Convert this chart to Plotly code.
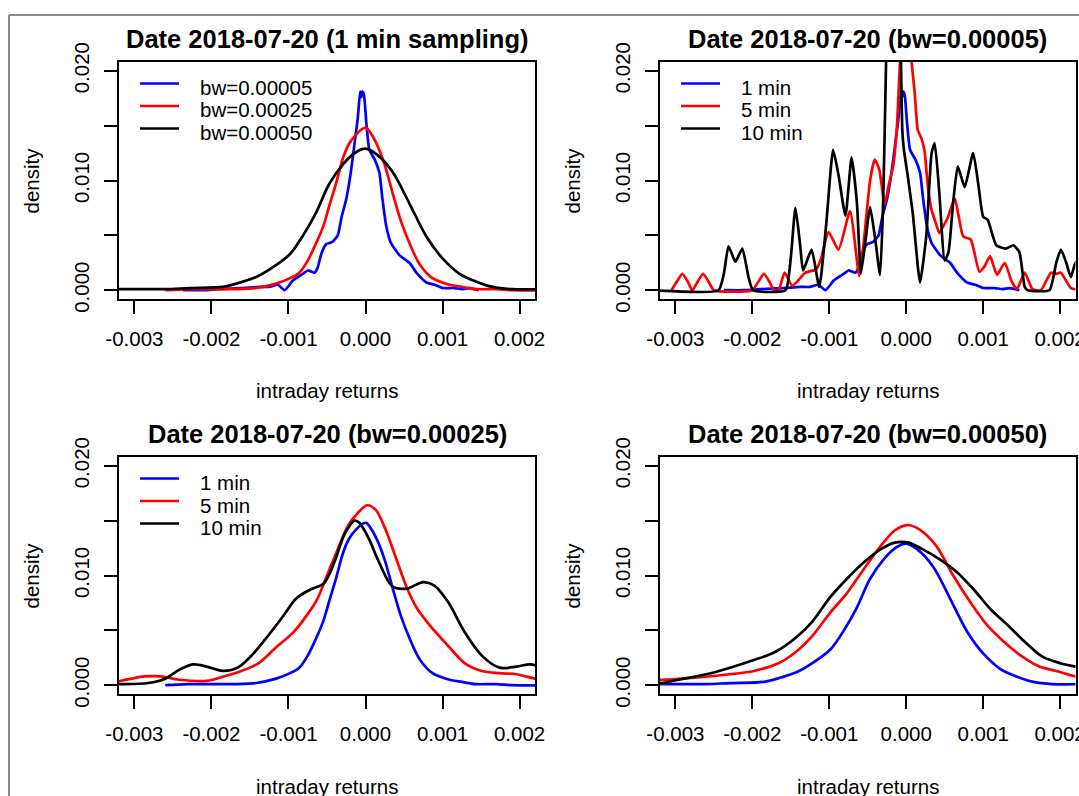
import plotly.graph_objects as go

W, H = 1079, 796

# ---------------- data ----------------
x_ticks = [-0.003, -0.002, -0.001, 0.0, 0.001, 0.002]
x_tick_labels = ["-0.003", "-0.002", "-0.001", "0.000", "0.001", "0.002"]
y_ticks = [0.0, 0.005, 0.010, 0.015, 0.020]
y_tick_labels = ["0.000", "", "0.010", "", "0.020"]

panel_titles = [
    "Date 2018-07-20 (1 min sampling)",
    "Date 2018-07-20 (bw=0.00005)",
    "Date 2018-07-20 (bw=0.00025)",
    "Date 2018-07-20 (bw=0.00050)",
]
x_title = "intraday returns"
y_title = "density"
legend_bw_labels = ["bw=0.00005", "bw=0.00025", "bw=0.00050"]
legend_freq_labels = ["1 min", "5 min", "10 min"]

# 1 min sampling, bw = 0.00005
ret_1min_bw5 = [-0.00237, -0.0021, -0.0019, -0.0016, -0.00138, -0.00125, -0.00114, -0.00105,
                -0.00094, -0.00081, -0.00075, -0.00066, -0.00062, -0.00057, -0.00051, -0.00043,
                -0.00036, -0.00031, -0.00025, -0.00019, -0.00014, -0.0001, -0.00007, -0.000055,
                -0.00004, -0.00002, 0.00001, 0.00005, 0.00012, 0.00018, 0.00022, 0.00027, 0.00033,
                0.00044, 0.00057, 0.00066, 0.00079, 0.0009, 0.001, 0.00115, 0.00125, 0.00135, 0.00147]
dens_1min_bw5 = [0.0, 0.0, 0.0001, 0.0002, 0.0003, 0.0003, 0.0005, 0.0,
                 0.0009, 0.0015, 0.0018, 0.0016, 0.0021, 0.0034, 0.0042, 0.0044,
                 0.0050, 0.0067, 0.0083, 0.0108, 0.0135, 0.0157, 0.0181, 0.0176,
                 0.0181, 0.0178, 0.0153, 0.0128, 0.0119, 0.0107, 0.0083, 0.0058, 0.0043,
                 0.0032, 0.0025, 0.0016, 0.0007, 0.0005, 0.0002, 0.0002, 0.0001, 0.0002, 0.0]

# 1 min sampling, bw = 0.00025
ret_1min_bw25 = [-0.0026, -0.0023, -0.00194, -0.0017, -0.00142, -0.00116, -0.00098, -0.00086,
                 -0.00075, -0.00064, -0.00055, -0.00047, -0.00038, -0.00029, -0.00021, -0.00012,
                 -0.00004, 0.00001, 0.00005, 0.00014, 0.00025, 0.00035, 0.00046, 0.00057, 0.0007,
                 0.00087, 0.00109, 0.00125, 0.00143, 0.0017, 0.0019, 0.0023]
dens_1min_bw25 = [0.0, 0.0001, 0.0001, 0.0001, 0.0002, 0.0006, 0.0011, 0.0016,
                  0.0027, 0.0043, 0.0058, 0.0077, 0.0098, 0.0121, 0.0134, 0.0142,
                  0.0147, 0.0148, 0.0145, 0.0134, 0.0114, 0.0089, 0.0063, 0.0043, 0.0024,
                  0.0011, 0.0005, 0.0003, 0.0001, 0.0001, 0.0, 0.0]

# 1 min sampling, bw = 0.00050
ret_1min_bw50 = [-0.0033, -0.003, -0.0026, -0.00228, -0.00185, -0.00163, -0.00142, -0.0012,
                 -0.00098, -0.00081, -0.00064, -0.00047, -0.00029, -0.00012, 0.0, 0.00014,
                 0.00035, 0.00057, 0.00079, 0.001, 0.00122, 0.00143, 0.00165, 0.0019, 0.0023]
dens_1min_bw50 = [0.0001, 0.0001, 0.0001, 0.0002, 0.0003, 0.0007, 0.0012, 0.0021,
                  0.0033, 0.0050, 0.0071, 0.0097, 0.0115, 0.0126, 0.0129, 0.0124,
                  0.0108, 0.0079, 0.0049, 0.0029, 0.0015, 0.0008, 0.0003, 0.0001, 0.0001]

# 5 min sampling, bw = 0.00005
ret_5min_bw5 = [-0.00305, -0.00298, -0.00291, -0.00284, -0.00278, -0.00271, -0.00264, -0.00257,
                -0.0025, -0.002, -0.00192, -0.00185, -0.00178, -0.00172, -0.00166, -0.00158,
                -0.00148, -0.00131, -0.00117, -0.00111, -0.00101, -0.00088,
                -0.00073, -0.00061, -0.00055, -0.00047, -0.00041, -0.00035, -0.00028, -0.00023,
                -0.00017, -0.00012, -0.00008, -0.00003, 0.00003, 0.00007, 0.00011, 0.00015,
                0.0002, 0.00024, 0.00028, 0.00033, 0.00038, 0.00043, 0.00048, 0.00054, 0.00063,
                0.00068, 0.00074, 0.00084, 0.00095, 0.00102, 0.00109, 0.00118, 0.00128, 0.00137,
                0.00144, 0.00154, 0.00164, 0.00175, 0.00188, 0.00195, 0.00201, 0.00214, 0.0023]
dens_5min_bw5 = [0.0, 0.0008, 0.0015, 0.0008, 0.0, 0.0008, 0.0015, 0.0008,
                 0.0, 0.0, 0.0008, 0.0015, 0.0008, 0.0, 0.0, 0.0016,
                 0.0004, 0.0016, 0.0019, 0.0028, 0.0053, 0.0037,
                 0.0072, 0.0013, 0.0045, 0.0100, 0.0119, 0.0110, 0.0078, 0.0095,
                 0.0113, 0.0150, 0.0208, 0.0245, 0.0245, 0.0208, 0.0180, 0.0146,
                 0.0138, 0.0126, 0.0095, 0.0073, 0.0062, 0.0052, 0.0058, 0.0066, 0.0084,
                 0.0068, 0.0049, 0.0046, 0.0017, 0.0022, 0.0031, 0.0014, 0.0025, 0.0008,
                 0.0001, 0.0016, 0.0001, 0.0, 0.0016, 0.0015, 0.0016, 0.0002, 0.0]

# 10 min sampling, bw = 0.00005
ret_10min_bw5 = [-0.0033, -0.00244, -0.00237, -0.00231, -0.00222, -0.00213, -0.00205, -0.00199,
                 -0.00157, -0.0015, -0.00144, -0.00138, -0.00134, -0.00123, -0.00113, -0.00104,
                 -0.00095, -0.00088, -0.00079, -0.00071, -0.00064, -0.00059, -0.00053, -0.00047,
                 -0.0004, -0.00034, -0.0003, -0.00026, -0.00021, -0.00011, -0.00007, -0.00005,
                 -0.00003, 0.00002, 0.00009, 0.00015, 0.00018, 0.00026, 0.00033, 0.00037, 0.00043,
                 0.0005, 0.00055, 0.00061, 0.00067, 0.00076, 0.00087, 0.00094, 0.001, 0.00106,
                 0.00117, 0.0013, 0.00139, 0.00147, 0.00154, 0.00158, 0.00186, 0.00195, 0.00201,
                 0.00208, 0.00214, 0.0022, 0.0023]
dens_10min_bw5 = [0.0, 0.0, 0.0015, 0.0040, 0.0026, 0.0038, 0.0012, 0.0,
                  0.0, 0.0030, 0.0075, 0.0042, 0.0018, 0.0037, 0.0003, 0.0060,
                  0.0128, 0.0105, 0.0068, 0.0121, 0.0079, 0.0015, 0.0045, 0.0076,
                  0.0045, 0.0014, 0.0080, 0.0215, 0.0400, 0.0400, 0.0215, 0.0145,
                  0.0128, 0.0104, 0.0067, 0.0022, 0.0007, 0.0049, 0.0125, 0.0134, 0.0089,
                  0.0027, 0.0035, 0.0080, 0.0113, 0.0094, 0.0125, 0.0095, 0.0067, 0.0064,
                  0.0041, 0.0038, 0.0041, 0.0035, 0.0003, 0.0, 0.0, 0.0025, 0.0037,
                  0.0025, 0.0012, 0.0025, 0.0030]

# 5 min sampling, bw = 0.00025
ret_5min_bw25 = [-0.0033, -0.00318, -0.00287, -0.00266, -0.00242, -0.00206, -0.00184, -0.00161,
                 -0.00139, -0.00117, -0.00094, -0.00077, -0.00063, -0.0005, -0.00036, -0.00023,
                 -0.0001, 0.00002, 0.00013, 0.00026, 0.0004, 0.00053, 0.00066, 0.00084, 0.00107,
                 0.00129, 0.00151, 0.00174, 0.00196, 0.0022, 0.0023]
dens_5min_bw25 = [0.0003, 0.0004, 0.0008, 0.0008, 0.0005, 0.0004, 0.0008, 0.0013,
                  0.0020, 0.0034, 0.0048, 0.0063, 0.0078, 0.0100, 0.0124, 0.0145,
                  0.0157, 0.0164, 0.0160, 0.0142, 0.0115, 0.0090, 0.0071, 0.0054, 0.0036,
                  0.0020, 0.0013, 0.0011, 0.0010, 0.0006, 0.0005]

# 10 min sampling, bw = 0.00025
ret_10min_bw25 = [-0.0033, -0.00318, -0.00282, -0.0026, -0.00242, -0.00224, -0.00206, -0.00184,
                  -0.00166, -0.00148, -0.0013, -0.00108, -0.0009, -0.00072, -0.00054, -0.0004,
                  -0.00027, -0.00014, -0.00008, 0.00004, 0.00017, 0.00035, 0.00053, 0.00075,
                  0.00089, 0.00107, 0.00129, 0.00151, 0.00174, 0.00196, 0.00214, 0.0023]
dens_10min_bw25 = [0.0001, 0.0001, 0.0002, 0.0006, 0.0014, 0.0019, 0.0017, 0.0013,
                   0.0016, 0.0027, 0.0042, 0.0062, 0.0079, 0.0087, 0.0093, 0.0113,
                   0.0138, 0.0150, 0.0148, 0.0134, 0.0113, 0.0090, 0.0088, 0.0094,
                   0.0091, 0.0076, 0.0048, 0.0027, 0.0016, 0.0017, 0.0019, 0.0016]

# 5 min sampling, bw = 0.00050
ret_5min_bw50 = [-0.0033, -0.00318, -0.00274, -0.00229, -0.00198, -0.00166, -0.00144, -0.00122,
                 -0.00099, -0.00077, -0.00055, -0.00033, -0.00015, 0.00001, 0.00017, 0.00039,
                 0.00061, 0.00084, 0.00106, 0.00128, 0.00151, 0.00173, 0.00195, 0.0022, 0.0023]
dens_5min_bw50 = [0.0005, 0.0005, 0.0007, 0.0010, 0.0013, 0.0020, 0.0030, 0.0045,
                  0.0066, 0.0084, 0.0106, 0.0127, 0.0141, 0.0146, 0.0142, 0.0127,
                  0.0100, 0.0075, 0.0054, 0.0039, 0.0026, 0.0017, 0.0013, 0.0008, 0.0007]

# 10 min sampling, bw = 0.00050
ret_10min_bw50 = [-0.0033, -0.00318, -0.00296, -0.0026, -0.00229, -0.00198, -0.00171, -0.00144,
                  -0.00122, -0.00099, -0.00077, -0.00055, -0.00033, -0.00015, 0.00003, 0.00021,
                  0.00043, 0.00066, 0.00088, 0.0011, 0.00133, 0.00155, 0.00177, 0.002, 0.0022, 0.0023]
dens_10min_bw50 = [0.0002, 0.0002, 0.0005, 0.0010, 0.0016, 0.0023, 0.0030, 0.0043,
                   0.0058, 0.0080, 0.0097, 0.0112, 0.0124, 0.0130, 0.0130, 0.0124,
                   0.0115, 0.0103, 0.0087, 0.0069, 0.0054, 0.0039, 0.0026, 0.0020, 0.0017, 0.0016]

series = {
    "1min_bw5": (ret_1min_bw5, dens_1min_bw5),
    "1min_bw25": (ret_1min_bw25, dens_1min_bw25),
    "1min_bw50": (ret_1min_bw50, dens_1min_bw50),
    "5min_bw5": (ret_5min_bw5, dens_5min_bw5),
    "10min_bw5": (ret_10min_bw5, dens_10min_bw5),
    "5min_bw25": (ret_5min_bw25, dens_5min_bw25),
    "10min_bw25": (ret_10min_bw25, dens_10min_bw25),
    "5min_bw50": (ret_5min_bw50, dens_5min_bw50),
    "10min_bw50": (ret_10min_bw50, dens_10min_bw50),
}
line_colors = ["#0000ff", "#ff0000", "#000000"]

# panel: (series keys in draw order, legend labels or None, pixel box l,t,r,b)
panels = [
    (["1min_bw5", "1min_bw25", "1min_bw50"], legend_bw_labels, (119, 62, 535, 299)),
    (["1min_bw5", "5min_bw5", "10min_bw5"], legend_freq_labels, (660, 62, 1075.5, 299)),
    (["1min_bw25", "5min_bw25", "10min_bw25"], legend_freq_labels, (119, 457, 535, 694)),
    (["1min_bw50", "5min_bw50", "10min_bw50"], None, (660, 457, 1075.5, 694)),
]

FONT = "Liberation Sans, Arial, sans-serif"
TICK_SIZE = 20.5
LW = 2.7


def fx(p):
    return p / W


def fy(p):
    return 1 - p / H


fig = go.Figure()
shapes = []
annotations = []
layout = {}

for i, (keys, leg, (l, t, r, b)) in enumerate(panels):
    n = "" if i == 0 else str(i + 1)
    for k, c in zip(keys, line_colors):
        xs, ys = series[k]
        smooth = 0.5 if k.endswith("bw5") else 0.9
        fig.add_trace(go.Scatter(x=xs, y=ys, mode="lines",
                                 line=dict(color=c, width=LW, shape="spline", smoothing=smooth),
                                 xaxis="x" + n, yaxis="y" + n,
                                 showlegend=False, hoverinfo="skip"))
    common = dict(showgrid=False, zeroline=False, showline=True, mirror=True,
                  linecolor="black", linewidth=1.5, ticks="outside", ticklen=13,
                  tickwidth=1.5, tickcolor="black", automargin=False,
                  ticklabeloverflow="allow",
                  tickfont=dict(family=FONT, size=TICK_SIZE, color="black"))
    layout["xaxis" + n] = dict(domain=[fx(l), fx(r)], range=[-0.0032, 0.0022],
                               anchor="y" + n, tickmode="array", tickvals=x_ticks,
                               ticktext=x_tick_labels, ticklabelstandoff=8, **common)
    layout["yaxis" + n] = dict(domain=[fy(b), fy(t)], range=[-0.0008, 0.0208],
                               anchor="x" + n, tickmode="array", tickvals=y_ticks,
                               ticktext=y_tick_labels, tickangle=-90,
                               ticklabelstandoff=7, **common)
    cx = (l + r) / 2
    cy = (t + b) / 2
    annotations.append(dict(text="<b>" + panel_titles[i] + "</b>", x=fx(cx), y=fy(t - 23),
                            xref="paper", yref="paper", showarrow=False,
                            xanchor="center", yanchor="middle",
                            font=dict(family=FONT, size=25.5, color="black")))
    annotations.append(dict(text=x_title, x=fx(cx), y=fy(b + 92), xref="paper", yref="paper",
                            showarrow=False, xanchor="center", yanchor="middle",
                            font=dict(family=FONT, size=20.5, color="black")))
    annotations.append(dict(text=y_title, x=fx(l - 88), y=fy(cy), xref="paper", yref="paper",
                            showarrow=False, xanchor="center", yanchor="middle", textangle=-90,
                            font=dict(family=FONT, size=20.5, color="black")))
    if leg is not None:
        for j, (lab, c) in enumerate(zip(leg, line_colors)):
            ly = t + 21.5 + 22.5 * j
            shapes.append(dict(type="line", xref="paper", yref="paper",
                               x0=fx(l + 21), x1=fx(l + 60), y0=fy(ly), y1=fy(ly),
                               line=dict(color=c, width=LW)))
            annotations.append(dict(text=lab, x=fx(l + 79), y=fy(ly + 4), xref="paper",
                                    yref="paper", showarrow=False, xanchor="left",
                                    yanchor="middle",
                                    font=dict(family=FONT, size=20.5, color="black")))

# outer grey frame
shapes.append(dict(type="line", xref="paper", yref="paper", x0=fx(9), x1=fx(W),
                   y0=fy(15), y1=fy(15), line=dict(color="#8a8a8a", width=2)))
shapes.append(dict(type="line", xref="paper", yref="paper", x0=fx(9), x1=fx(9),
                   y0=fy(15), y1=fy(H), line=dict(color="#8a8a8a", width=2)))

fig.update_layout(width=W, height=H,
                  margin=dict(l=0, r=0, t=0, b=0, pad=0, autoexpand=False),
                  paper_bgcolor="white", plot_bgcolor="white", showlegend=False,
                  shapes=shapes, annotations=annotations, **layout)

fig.write_html("out.html", config={"displayModeBar": False},
               post_script="document.body.style.margin='0px';"
                           "document.body.style.padding='0px';"
                           "document.documentElement.style.overflow='hidden';")
